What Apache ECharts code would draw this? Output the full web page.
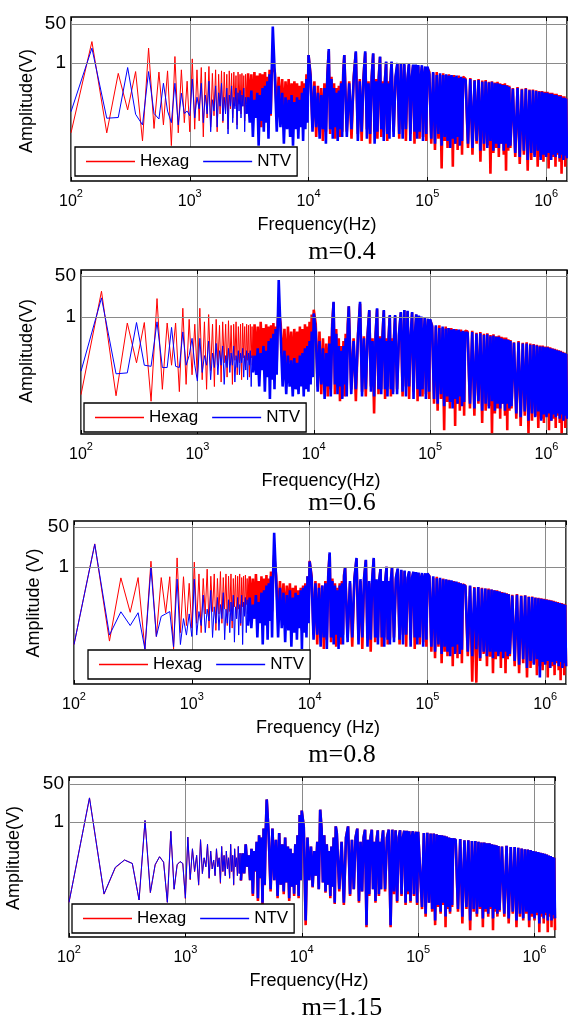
<!DOCTYPE html>
<html><head><meta charset="utf-8">
<script src="https://cdn.jsdelivr.net/npm/echarts@6/dist/echarts.min.js"></script>
<style>html,body{margin:0;padding:0;background:#fff}#c{width:568px;height:1015px}</style>
</head><body><div id="c"></div>
<script>
// ---------- frequency grid (Hz), one list per band ----------
const fA = [100,150,200,250,300,350,400,450,500,550,600,650,700,750,800,850,900,950,1000];
const fB = [1050,1100,1150,1200,1250,1300,1350,1400,1450,1500,1550,1600,1650,1700,1750,1800,1850,1900,1950,2000,2050,2100,2150,2200,2250,2300,2350,2400,2450,2500,2550,2600,2650,2700,2750,2800,2850,2900,2950,3000];
const fC = [3100,3200,3300,3400,3500,3600,3700,3800,3900,4000,4100,4200,4300,4400,4500,4600,4700,4800,4900,5000];
const fD = [5200,5400,5600,5800,6000,6200,6400,6600,6800,7000,7200,7400,7600,7800,8000,8200,8400,8600,8800,9000,9200,9400,9600,9800,10000];
const fE = [10400,10800,11200,11600,12000,12400,12800,13200,13600,14000,14400,14800,15200,15600,16000,16400,16800,17200,17600,18000,18400,18800,19200,19600,20000];
const fF = [21000,22000,23000,24000,25000,26000,27000,28000,29000,30000,31000,32000,33000,34000,35000,36000,37000,38000,39000,40000,41000,42000,43000,44000,45000,46000,47000,48000,49000,50000];
const fG = [52000,54000,56000,58000,60000,62000,64000,66000,68000,70000,72000,74000,76000,78000,80000,82000,84000,86000,88000,90000,92000,94000,96000,98000,100000];
const fH = [104000,108000,112000,116000,120000,124000,128000,132000,136000,140000,144000,148000,152000,156000,160000,164000,168000,172000,176000,180000,184000,188000,192000,196000,200000];
const fI = [210000,220000,230000,240000,250000,260000,270000,280000,290000,300000,310000,320000,330000,340000,350000,360000,370000,380000,390000,400000,410000,420000,430000,440000,450000,460000,470000,480000,490000,500000];
const fJ = [525000,550000,575000,600000,625000,650000,675000,700000,725000,750000,775000,800000,825000,850000,875000,900000,925000,950000,975000,1000000,1025000,1050000,1075000,1100000,1125000,1150000,1175000,1200000,1225000,1250000,1275000,1300000,1325000,1350000,1375000,1400000,1425000,1450000,1475000,1500000];
const freqBands = [fA,fB,fC,fD,fE,fF,fG,fH,fI,fJ];

// ---------- amplitudes (V), one list per band, m = 0.4 ----------
const hexag04 = [
 [9e-4,8.5,9e-4,0.35,9e-3,0.42,4e-4,4.4,1.4e-3,0.4,2e-3,0.45,2.5e-4,1.9,9e-4,0.5,2.5e-3,0.16,1e-3],
 [1.5,1.3e-3,0.5,3e-3,0.63,6e-4,0.4,4e-3,0.7,1.6e-3,0.35,5e-3,0.5,1e-3,0.32,6e-3,0.45,2.5e-3,0.4,8e-3,0.32,1.3e-3,0.45,0.01,0.35,4e-3,0.4,0.013,0.28,2e-3,0.4,0.016,0.32,6e-3,0.35,0.013,0.28,3e-3,0.32,0.016],
 [0.35,0.013,0.32,4e-3,0.4,0.02,0.28,0.01,0.35,1.6e-3,0.32,0.016,0.4,8e-3,0.25,0.02,0.5,5e-3,0.35,0.8],
 [0.4,6e-3,0.25,0.01,0.2,4e-3,0.16,8e-3,0.2,5e-3,0.13,0.01,0.16,3e-3,0.13,8e-3,0.1,5e-3,0.16,6e-3,0.13,2.5e-3,0.32,0.01,2.2],
 [0.32,1.6e-3,0.16,6e-4,0.1,1.3e-3,0.08,4e-4,0.13,1e-3,0.32,3.2,8e-4,0.25,1.6e-3,0.13,5e-4,0.08,1.3e-3,0.1,6e-4,0.16,1e-3,0.4,2.2],
 [1e-3,0.16,5e-4,0.25,2.8,8e-4,0.2,4e-4,0.25,2.8,1.3e-3,0.16,3e-4,0.25,2.5,1e-3,0.2,5e-4,0.25,1.8,6e-4,0.16,1e-3,0.2,1.1,4e-4,0.16,1.3e-3,0.2,1.1],
 [1e-3,0.2,0.9,5e-4,0.9,1.3e-3,0.8,4e-4,0.16,0.8,8e-4,0.2,0.8,3e-4,0.8,1e-3,0.7,5e-4,0.16,0.7,6e-4,0.2,0.63,4e-4,0.63],
 [0.4,3e-4,0.35,1.6e-4,0.4,5e-4,0.3,2.5e-5,0.35,4e-4,0.3,2e-4,0.32,6e-4,0.28,3e-5,0.3,3e-4,0.25,1.6e-4,0.28,5e-4,0.22,1e-4,0.25],
 [0.2,2e-4,0.22,1e-4,0.18,3e-4,0.2,5e-5,0.17,1.5e-4,0.18,2.5e-4,0.15,1.5e-5,0.16,1.2e-4,0.14,2e-4,0.15,8e-5,0.13,3e-4,0.12,1e-4,0.13,2e-5,0.11,1.5e-4,0.1,2e-4],
 [0.08,8e-5,0.09,4e-5,0.075,1e-4,0.08,2e-5,0.07,6e-5,0.07,1e-4,0.065,3e-5,0.06,8e-5,0.06,5e-5,0.055,1e-4,0.055,2.5e-5,0.05,6e-5,0.05,8e-5,0.045,3e-5,0.045,1e-4,0.04,5e-5,0.04,1.5e-5,0.035,6e-5,0.035,3e-5,0.03,7e-5]
];
const ntv04 = [
 [7.5e-3,4.4,3.9e-3,4.2e-3,0.63,5.8e-3,2e-3,0.42,6.3e-3,3.6e-3,0.13,8e-3,2.5e-3,0.13,2e-3,0.048,6.3e-3,8e-3,5e-3],
 [0.2,4e-3,0.032,0.01,0.13,2.5e-3,0.04,6e-3,0.16,1e-3,0.025,8e-3,0.1,1.6e-3,0.05,0.013,0.13,3e-3,0.032,6e-3,0.08,8e-4,0.04,0.013,0.1,2.5e-3,0.032,0.01,0.08,1.3e-3,0.05,8e-3,0.063,4e-3,0.04,0.013,0.08,1e-3,0.032,6e-3],
 [0.032,2.5e-3,0.063,6e-4,0.025,4e-3,0.05,2.5e-4,0.04,3e-3,0.08,1e-3,0.1,2.5e-3,0.16,5e-4,0.32,6e-3,0.5,38],
 [0.32,1e-3,0.1,1.6e-3,0.05,3e-4,0.032,1.3e-3,0.025,6e-4,0.04,2.5e-4,0.02,1.3e-3,0.032,5e-4,0.025,1.6e-3,0.05,4e-4,0.08,1.3e-3,0.2,2.5e-3,2.2],
 [0.25,1e-3,0.1,1.6e-3,0.05,5e-4,0.04,1.3e-3,0.08,3e-4,0.25,4,1.3e-3,0.2,5e-4,0.08,1.6e-3,0.05,4e-4,0.063,1.3e-3,0.13,6e-4,0.32,2.2],
 [6e-4,0.13,1.3e-3,0.2,3.2,4e-4,0.16,1e-3,0.2,3.2,5e-4,0.13,8e-4,0.2,2.6,3e-4,0.16,1e-3,0.2,1.9,1.3e-3,0.13,4e-4,0.16,1.15,8e-4,0.13,5e-4,0.16,1.15],
 [6e-4,0.25,1.0,8e-4,1.0,5e-4,0.9,1.3e-3,0.2,0.9,4e-4,0.25,0.85,1e-3,0.85,5e-4,0.8,1e-3,0.2,0.8,4e-4,0.25,0.7,8e-4,0.7],
 [0.32,5e-4,0.4,3e-4,0.3,8e-4,0.35,2.5e-4,0.3,6e-4,0.32,4e-4,0.28,2e-4,0.3,5e-4,0.25,3e-4,0.28,6e-4,0.22,2.5e-4,0.25,4e-4,0.2],
 [0.18,3e-4,0.2,2e-4,0.17,4e-4,0.18,1.5e-4,0.15,3e-4,0.16,2e-4,0.14,4e-4,0.15,1.5e-4,0.13,3e-4,0.13,2e-4,0.12,3e-4,0.11,1.5e-4,0.11,3e-4,0.1,2e-4,0.09,2.5e-4],
 [0.075,1.2e-4,0.08,8e-5,0.07,1.5e-4,0.075,6e-5,0.065,1.2e-4,0.065,8e-5,0.06,1.5e-4,0.055,6e-5,0.055,1e-4,0.05,8e-5,0.05,1.2e-4,0.045,6e-5,0.045,1e-4,0.04,8e-5,0.04,1.2e-4,0.035,7e-5,0.035,1e-4,0.03,6e-5,0.03,9e-5,0.028,7e-5]
];

// ---------- m = 0.6 ----------
const hexag06 = [
 [6e-4,11.7,5.4e-4,0.56,0.0126,0.59,3.2e-4,5.8,1e-3,0.56,0.01,0.56,8e-4,2.3,1.6e-3,0.8,4e-3,0.5,3.2e-3],
 [2.3,2.5e-3,0.63,1e-3,1.26,6e-3,0.5,1.3e-3,0.8,0.01,0.45,2e-3,0.63,0.0126,0.5,3.2e-3,0.7,0.01,0.45,1.6e-3,0.5,0.016,0.63,4e-3,0.4,0.0126,0.5,2.5e-3,0.56,0.02,0.4,6.3e-3,0.5,0.016,0.45,3.2e-3,0.5,0.02,0.4,0.01],
 [0.5,0.0126,0.4,6.3e-3,0.63,0.02,0.35,0.01,0.5,4e-3,0.4,0.016,0.45,8e-3,0.56,0.02,0.4,0.01,0.63,2],
 [0.5,0.01,0.32,5e-3,0.4,0.0126,0.25,4e-3,0.32,0.01,0.25,3.2e-3,0.4,8e-3,0.32,2.5e-3,0.5,0.01,0.4,5e-3,0.63,0.0126,1.26,0.016,2],
 [0.5,1.3e-3,0.25,6.3e-4,0.13,1.6e-3,0.08,5e-4,0.16,1e-3,0.5,4,6.3e-4,0.32,1.3e-3,0.13,3.2e-4,0.063,1e-3,0.1,5e-4,0.2,1.3e-3,0.5,2.75],
 [1e-3,0.13,3.2e-4,0.2,3.5,8e-4,0.16,5e-4,0.2,1.8,1.3e-3,0.13,1e-4,0.2,2.1,6.3e-4,0.16,1e-3,0.2,1.8,4e-4,0.13,1.3e-3,0.16,1.1,5e-4,0.13,8e-4,0.16,1.1],
 [1e-3,0.16,1.5,5e-4,1.9,1.3e-3,1.7,4e-4,0.13,1.5,8e-4,0.16,1.25,3.2e-4,1.1,1e-3,1.0,5e-4,0.13,0.9,6.3e-4,0.16,0.8,4e-4,0.75],
 [0.45,2.5e-4,0.4,1.3e-4,0.45,4e-4,0.35,2e-5,0.4,3e-4,0.35,1.6e-4,0.35,5e-4,0.3,3e-5,0.32,2.5e-4,0.28,1.3e-4,0.3,4e-4,0.25,8e-5,0.27],
 [0.25,1.6e-4,0.27,8e-5,0.22,2.5e-4,0.24,4e-5,0.2,1.3e-4,0.21,2e-4,0.18,1.5e-5,0.19,1e-4,0.16,1.6e-4,0.17,6e-5,0.15,2.5e-4,0.14,8e-5,0.14,2e-5,0.12,1.3e-4,0.11,1.6e-4],
 [0.09,6e-5,0.1,3e-5,0.085,8e-5,0.09,1.5e-5,0.08,5e-5,0.075,8e-5,0.07,2.5e-5,0.065,6e-5,0.065,4e-5,0.06,8e-5,0.06,2e-5,0.055,5e-5,0.05,6e-5,0.048,2.5e-5,0.045,8e-5,0.042,4e-5,0.04,1.5e-5,0.036,5e-5,0.034,2.5e-5,0.03,6e-5]
];
const ntv06 = [
 [5.6e-3,6.2,4.4e-3,4.8e-3,0.59,0.01,9e-3,0.63,8e-3,8e-3,0.37,9e-3,8e-3,0.24,0.01,0.025,0.13,0.01,2.2e-3],
 [0.13,5e-3,0.025,0.01,0.1,2.5e-3,0.032,8e-3,0.08,4e-3,0.04,0.01,0.063,1.6e-3,0.025,8e-3,0.05,5e-3,0.032,0.01,0.063,2e-3,0.025,8e-3,0.04,4e-3,0.032,0.0126,0.05,3.2e-3,0.025,6.3e-3,0.04,2.5e-3,0.032,0.01,0.04,1.3e-3,0.025,5e-3],
 [0.025,4e-3,0.05,1.3e-3,0.032,6.3e-3,0.063,8e-4,0.04,3.2e-3,0.1,4e-4,0.13,2.5e-3,0.2,1e-3,0.32,4e-3,0.4,34],
 [0.16,1.3e-3,0.04,6.3e-4,0.025,1.3e-3,0.016,5e-4,0.02,1e-3,0.0126,6.3e-4,0.025,1.3e-3,0.032,5e-4,0.05,1e-3,0.063,8e-4,0.1,1.6e-3,0.25,3.2e-3,1.4],
 [0.25,8e-4,0.1,1.6e-3,0.05,4e-4,0.032,1.3e-3,0.08,5e-4,0.32,4.3,1.6e-3,0.2,6.3e-4,0.063,1.3e-3,0.04,4e-4,0.063,1.6e-3,0.13,5e-4,0.32,2.75],
 [6.3e-4,0.1,1e-3,0.16,4.3,5e-4,0.13,1e-3,0.16,1.95,8e-4,0.1,5e-4,0.16,2.3,1e-3,0.13,6.3e-4,0.16,1.95,1e-3,0.1,5e-4,0.13,1.2,1e-3,0.1,6.3e-4,0.13,1.2],
 [6.3e-4,0.2,1.6,8e-4,1.95,5e-4,1.8,1.3e-3,0.16,1.6,4e-4,0.2,1.3,1e-3,1.15,5e-4,1.05,1e-3,0.16,0.95,4e-4,0.2,0.85,8e-4,0.8],
 [0.4,4e-4,0.45,2.5e-4,0.35,6.3e-4,0.4,2e-4,0.33,5e-4,0.35,3e-4,0.3,1.6e-4,0.32,4e-4,0.28,2.5e-4,0.3,5e-4,0.25,2e-4,0.27,3e-4,0.22],
 [0.22,2.5e-4,0.24,1.6e-4,0.2,3.2e-4,0.21,1.3e-4,0.18,2.5e-4,0.19,1.6e-4,0.16,3.2e-4,0.17,1.3e-4,0.15,2.5e-4,0.15,1.6e-4,0.13,2.5e-4,0.12,1.3e-4,0.12,2.5e-4,0.11,1.6e-4,0.1,2e-4],
 [0.085,1e-4,0.09,7e-5,0.08,1.2e-4,0.08,5e-5,0.07,1e-4,0.07,7e-5,0.065,1.2e-4,0.06,5e-5,0.06,9e-5,0.055,7e-5,0.055,1e-4,0.05,5e-5,0.048,9e-5,0.045,7e-5,0.042,1e-4,0.04,6e-5,0.037,9e-5,0.034,5e-5,0.032,8e-5,0.03,6e-5]
];

// ---------- m = 0.8 ----------
const hexag08 = [
 [5e-4,9.5,7e-4,0.34,0.0117,0.35,3.2e-4,1.74,1.1e-3,0.35,0.0112,0.38,3.2e-4,2.4,1.6e-3,0.38,3.2e-3,0.2,2.5e-3],
 [1.6,4e-3,0.5,1.6e-3,0.32,0.01,0.8,2.5e-3,0.4,0.0126,0.5,2e-3,0.32,0.01,0.63,4e-3,0.35,0.016,0.5,3.2e-3,0.4,0.0126,0.5,2.5e-3,0.32,0.02,0.45,6.3e-3,0.4,0.016,0.5,3.2e-3,0.35,0.02,0.4,8e-3,0.45,0.025,0.32,0.01],
 [0.4,0.016,0.32,6.3e-3,0.5,0.025,0.25,0.01,0.4,4e-3,0.32,0.02,0.45,8e-3,0.32,0.025,0.63,0.0126,0.5,3.2],
 [0.4,6.3e-3,0.25,0.0126,0.2,4e-3,0.16,0.01,0.2,3.2e-3,0.13,8e-3,0.16,2.5e-3,0.1,6.3e-3,0.13,2e-3,0.16,5e-3,0.2,3.2e-3,0.4,0.01,1.8],
 [0.4,1.3e-3,0.25,5e-4,0.2,1e-3,0.16,3.2e-4,0.25,8e-4,0.5,3.5,6.3e-4,0.32,1e-3,0.2,4e-4,0.13,1e-3,0.2,5e-4,0.25,1.3e-3,0.45,0.9],
 [1e-3,0.2,4e-4,0.3,2.2,8e-4,0.25,3.2e-4,0.3,1.9,1e-3,0.2,2.5e-4,0.3,2.2,6.3e-4,0.25,1e-3,0.25,0.8,4e-4,0.2,1e-3,0.25,1.0,5e-4,0.2,8e-4,0.25,0.9],
 [1e-3,0.3,0.8,5e-4,0.7,1.3e-3,0.65,4e-4,0.3,0.6,8e-4,0.3,0.6,3.2e-4,0.55,1e-3,0.55,5e-4,0.3,0.5,6.3e-4,0.3,0.5,4e-4,0.5],
 [0.4,2.5e-4,0.35,1.3e-4,0.38,4e-4,0.3,8e-5,0.32,2.5e-4,0.28,1.6e-4,0.28,4e-4,0.25,6e-5,0.25,2.5e-4,0.22,1.3e-4,0.22,3.2e-4,0.2,8e-5,0.18],
 [0.16,1.6e-4,0.15,1.3e-5,0.14,1.2e-5,0.14,1e-4,0.13,2e-4,0.12,6e-5,0.12,1.5e-4,0.11,3e-5,0.1,1.2e-4,0.1,2e-4,0.09,5e-5,0.085,1.5e-4,0.08,3e-5,0.075,1.2e-4,0.07,1.6e-4],
 [0.065,6e-5,0.07,3e-5,0.06,8e-5,0.062,2e-5,0.055,5e-5,0.055,8e-5,0.05,2.5e-5,0.048,6e-5,0.046,4e-5,0.044,8e-5,0.042,2e-5,0.04,5e-5,0.038,6e-5,0.036,2.5e-5,0.034,8e-5,0.032,4e-5,0.03,1.5e-5,0.029,5e-5,0.027,2.5e-5,0.025,6e-5]
];
const ntv08 = [
 [5e-4,9.1,1.26e-3,0.0123,3.2e-3,0.0112,3.2e-4,0.91,1.1e-3,7.9e-3,0.01,0.0126,4e-4,0.3,5e-4,6.3e-3,1.26e-3,0.01,1.1e-3],
 [0.3,1.26e-3,0.0126,3.2e-3,0.063,1.6e-3,0.016,5e-3,0.1,1e-3,0.02,4e-3,0.05,2e-3,0.025,6.3e-3,0.08,8e-4,0.016,4e-3,0.04,1.6e-3,0.032,5e-3,0.063,6.3e-4,0.02,6.3e-3,0.05,1.26e-3,0.025,4e-3,0.063,5e-4,0.032,8e-3,0.05,1.6e-3,0.04,3.2e-3],
 [0.05,2.5e-3,0.025,6.3e-3,0.063,1e-3,0.032,4e-3,0.08,5e-4,0.1,3.2e-3,0.16,8e-4,0.2,5e-3,0.4,1e-3,0.5,28],
 [0.25,1e-3,0.13,2.5e-3,0.08,6.3e-4,0.063,2e-3,0.1,4e-4,0.05,1.6e-3,0.08,8e-4,0.063,2.5e-3,0.1,3.2e-4,0.13,1.6e-3,0.16,1e-3,0.4,4e-3,1.7],
 [0.32,8e-4,0.2,1.3e-3,0.13,4e-4,0.16,1e-3,0.2,3.2e-4,0.45,4.1,1e-3,0.25,5e-4,0.16,1.3e-3,0.1,3.2e-4,0.16,1e-3,0.2,5e-4,0.4,0.91],
 [6.3e-4,0.25,1e-3,0.32,2.4,5e-4,0.3,1e-3,0.35,2.0,4e-4,0.25,8e-4,0.32,2.4,1e-3,0.3,5e-4,0.3,0.8,1e-3,0.25,4e-4,0.3,1.02,8e-4,0.25,5e-4,0.3,0.91],
 [6.3e-4,0.35,0.85,8e-4,0.75,5e-4,0.7,1.3e-3,0.35,0.65,4e-4,0.35,0.62,1e-3,0.6,5e-4,0.58,1e-3,0.32,0.55,4e-4,0.32,0.53,8e-4,0.53],
 [0.38,4e-4,0.4,2.5e-4,0.33,5e-4,0.34,2e-4,0.3,4e-4,0.3,2.5e-4,0.27,1.6e-4,0.27,4e-4,0.24,2e-4,0.24,5e-4,0.21,2e-4,0.2,3e-4,0.17],
 [0.15,2.5e-4,0.16,1.6e-4,0.13,3.2e-4,0.14,1.3e-4,0.12,2.5e-4,0.12,1.6e-4,0.11,2.5e-4,0.11,1.3e-4,0.1,2.5e-4,0.095,1.6e-4,0.09,2.5e-4,0.08,1.3e-4,0.08,2.5e-4,0.072,1.6e-4,0.068,2e-4],
 [0.06,1e-4,0.065,7e-5,0.058,1.2e-4,0.06,5e-5,0.052,1e-4,0.052,7e-5,0.048,1.2e-4,0.046,2e-5,0.044,9e-5,0.042,7e-5,0.04,1e-4,0.038,5e-5,0.036,9e-5,0.034,7e-5,0.032,1e-4,0.03,6e-5,0.029,9e-5,0.027,5e-5,0.026,8e-5,0.024,6e-5]
];

// ---------- m = 1.15 ----------
const hexag115 = [
 [2.6e-4,11.7,6e-4,9e-3,0.02,0.014,3.3e-4,1.15,7e-4,0.012,0.028,0.016,2.6e-4,0.38,1e-3,0.012,0.017,0.014,3.8e-4],
 [0.21,2.6e-3,0.063,6e-3,0.032,1.5e-3,0.16,5e-3,0.025,0.01,0.1,3e-3,0.05,8e-3,0.02,4e-3,0.063,0.01,0.025,1.8e-3,0.08,6e-3,0.032,4e-3,0.05,8e-3,0.025,3e-3,0.1,6e-3,0.032,1.5e-3,0.063,0.01,0.025,4e-3,0.08,5e-3,0.04,2.4e-3],
 [0.04,5e-3,0.1,0.01,0.032,2.5e-3,0.063,5e-4,0.05,6e-3,0.13,3e-4,0.25,3e-3,0.2,1.8e-4,0.5,1.5e-3,0.32,10],
 [0.25,8e-4,0.5,2.5e-3,0.16,4e-4,0.32,1.6e-3,0.1,6e-4,0.2,2e-3,0.08,3e-4,0.063,1.3e-3,0.04,5e-4,0.1,1.6e-3,0.25,4e-4,2,2.5e-3,3.2],
 [0.63,2.5e-5,0.2,2.5e-3,0.08,1.2e-3,0.05,4e-3,0.13,1e-3,3.5,0.5,2e-3,0.25,7e-4,0.1,1.6e-3,0.05,4e-4,0.08,1.3e-3,0.2,2.2e-4,0.63,0.32],
 [8e-4,0.13,2e-4,0.2,0.63,5e-4,0.16,1e-3,0.2,0.5,2.5e-4,0.13,8e-4,0.2,0.45,2e-5,0.16,5e-4,0.2,0.45,1e-3,0.13,2.5e-4,0.16,0.42,5e-4,0.13,1e-3,0.16,0.42],
 [8e-4,0.2,0.45,2e-5,0.45,6e-4,0.42,2.5e-4,0.2,0.42,5e-4,0.2,0.4,2e-4,0.4,6e-4,0.38,2.5e-4,0.2,0.38,5e-4,0.2,0.36,2e-4,0.36],
 [0.35,1.3e-4,0.32,6e-5,0.33,2.5e-4,0.3,1e-4,0.3,2.5e-5,0.28,1.6e-4,0.26,8e-5,0.25,2e-4,0.24,2e-5,0.22,1.3e-4,0.2,8e-5,0.19,1.6e-4,0.17],
 [0.16,1e-4,0.17,3e-5,0.15,1.3e-4,0.15,1.5e-5,0.14,1e-4,0.14,6e-5,0.13,1.3e-4,0.12,2e-5,0.12,1e-4,0.11,6e-5,0.11,1.3e-4,0.1,1.5e-5,0.095,1e-4,0.09,6e-5,0.085,1e-4],
 [0.08,6e-5,0.085,3e-5,0.075,8e-5,0.075,2e-5,0.07,6e-5,0.065,4e-5,0.06,8e-5,0.058,2e-5,0.055,6e-5,0.05,4e-5,0.048,7e-5,0.045,1.2e-5,0.042,6e-5,0.04,3e-5,0.038,7e-5,0.035,1.2e-5,0.032,6e-5,0.03,2e-5,0.027,5e-5,0.025,1.5e-5]
];
const ntv115 = [
 [2.6e-4,11.7,6.2e-4,9.5e-3,0.02,0.014,3.3e-4,1.15,7.2e-4,0.0126,0.028,0.016,2.6e-4,0.38,1e-3,0.0126,0.017,0.014,4e-4],
 [0.21,2.8e-3,0.063,6.3e-3,0.032,1.6e-3,0.16,5e-3,0.025,0.01,0.1,3.2e-3,0.05,8e-3,0.02,4e-3,0.063,0.01,0.025,2e-3,0.08,6.3e-3,0.032,4e-3,0.05,8e-3,0.025,3.2e-3,0.1,6.3e-3,0.032,1.6e-3,0.063,0.01,0.025,4e-3,0.08,5e-3,0.04,2.5e-3],
 [0.04,5e-3,0.1,0.01,0.032,2.5e-3,0.063,6.3e-4,0.05,6.3e-3,0.13,4e-4,0.25,3.2e-3,0.2,2.5e-4,0.5,1.6e-3,0.32,10],
 [0.25,1e-3,0.5,2.5e-3,0.16,5e-4,0.32,1.6e-3,0.1,8e-4,0.2,2e-3,0.08,4e-4,0.063,1.3e-3,0.04,6.3e-4,0.1,1.6e-3,0.25,5e-4,2,2.5e-3,3.2],
 [0.63,4e-5,0.2,2.5e-3,0.08,1.3e-3,0.05,4e-3,0.13,1e-3,3.5,0.5,2e-3,0.25,8e-4,0.1,1.6e-3,0.05,5e-4,0.08,1.3e-3,0.2,2.5e-4,0.63,0.32],
 [1e-3,0.13,2.5e-4,0.2,0.63,6e-4,0.16,1e-3,0.2,0.5,3e-4,0.13,8e-4,0.2,0.45,2.5e-5,0.16,6e-4,0.2,0.45,1e-3,0.13,3e-4,0.16,0.42,6e-4,0.13,1e-3,0.16,0.42],
 [1e-3,0.2,0.45,2.5e-5,0.45,8e-4,0.42,3e-4,0.2,0.42,6e-4,0.2,0.4,2.5e-4,0.4,8e-4,0.38,3e-4,0.2,0.38,6e-4,0.2,0.36,2.5e-4,0.36],
 [0.35,1.6e-4,0.32,8e-5,0.33,2.5e-4,0.3,1.3e-4,0.3,4e-5,0.28,2e-4,0.26,1e-4,0.25,2.5e-4,0.24,6e-5,0.22,1.6e-4,0.2,1e-4,0.19,2e-4,0.17],
 [0.16,1.3e-4,0.17,6e-5,0.15,1.6e-4,0.15,4e-5,0.14,1.3e-4,0.14,8e-5,0.13,1.6e-4,0.12,5e-5,0.12,1.3e-4,0.11,8e-5,0.11,1.6e-4,0.1,5e-5,0.095,1.3e-4,0.09,8e-5,0.085,1.2e-4],
 [0.08,8e-5,0.085,5e-5,0.075,1e-4,0.075,4e-5,0.07,8e-5,0.065,5e-5,0.06,1e-4,0.058,4e-5,0.055,8e-5,0.05,5e-5,0.048,9e-5,0.045,3e-5,0.042,8e-5,0.04,5e-5,0.038,9e-5,0.035,4e-5,0.032,8e-5,0.03,4e-5,0.027,7e-5,0.025,5e-5]
];

// ---------- labels ----------
const seriesNames = ['Hexag', 'NTV'];
const yTickValues = [1, 50];
const yTickLabels = ['1', '50'];
const panelTitles = ['m=0.4', 'm=0.6', 'm=0.8', 'm=1.15'];
const yAxisTitles = ['Amplitude(V)', 'Amplitude(V)', 'Amplitude (V)', 'Amplitude(V)'];
const xAxisTitles = ['Frequency(Hz)', 'Frequency(Hz)', 'Frequency (Hz)', 'Frequency(Hz)'];

// ---------- layout (pixels) ----------
const SANS = 'Arial, "Liberation Sans", Helvetica, sans-serif';
const SERIF = '"Times New Roman", "Liberation Serif", serif';
const layout = [
  {left:71, top:17,  width:496, height:164, yMin:7.2e-6, yMax:100, legL:75, legT:147, ampX:27, ampY:101, frX:317, frY:225, mX:342, mY:252},
  {left:81, top:270, width:486, height:164, yMin:1.4e-5, yMax:89,  legL:84, legT:403, ampX:27, ampY:351, frX:321, frY:481, mX:342, mY:503},
  {left:74, top:521, width:492, height:163, yMin:1.05e-5, yMax:89, legL:88, legT:650, ampX:34, ampY:603, frX:318, frY:728, mX:342, mY:755},
  {left:69, top:777, width:486, height:160, yMin:7.4e-6, yMax:100, legL:72, legT:904, ampX:14, ampY:858, frX:309, frY:981, mX:342, mY:1008}
];
const dataSets = [[hexag04, ntv04], [hexag06, ntv06], [hexag08, ntv08], [hexag115, ntv115]];
const colors = ['#ff0000', '#0000ff'];
const SPLIT_BAND = 2; // bands from here on are the dense high-frequency part

const problems = [];
function toPairs(bands, tag, from, to) {
  const out = [];
  for (let i = from; i < to; i++) {
    const vals = bands[i], f = freqBands[i];
    if (vals.length !== f.length) problems.push(tag + ' band' + i + ' ' + vals.length + '/' + f.length);
    const n = Math.min(vals.length, f.length);
    for (let k = 0; k < n; k++) out.push([f[k], vals[k]]);
  }
  return out;
}

const grids = [], xAxes = [], yAxes = [], series = [], legends = [], graphics = [];
layout.forEach((L, i) => {
  grids.push({left:L.left, top:L.top, width:L.width, height:L.height, show:true, borderColor:'#000', borderWidth:1.5, backgroundColor:'rgba(0,0,0,0)'});
  xAxes.push({
    type:'log', logBase:10, gridIndex:i, min:100, max:1.5e6, position:'bottom',
    axisLine:{show:false},
    axisTick:{show:true, inside:true, length:4, lineStyle:{color:'#000', width:1}},
    splitLine:{show:true, lineStyle:{color:'#8a8a8a', width:1}},
    axisLabel:{
      margin:7, showMaxLabel:false,
      formatter: v => { const e = Math.log10(v); const r = Math.round(e); return Math.abs(e - r) < 1e-3 ? '{b|10}{s|' + r + '}' : ''; },
      rich:{
        b:{fontSize:16, fontFamily:SANS, color:'#000', lineHeight:22, verticalAlign:'bottom'},
        s:{fontSize:11, fontFamily:SANS, color:'#000', lineHeight:9, verticalAlign:'top'}
      }
    }
  });
  yAxes.push({type:'log', logBase:10, gridIndex:i, min:L.yMin, max:L.yMax,
    axisLine:{show:false}, axisTick:{show:false}, axisLabel:{show:false}, splitLine:{show:false}});
  seriesNames.forEach((nm, s) => {
    const bands = dataSets[i][s];
    const low = toPairs(bands, nm + i, 0, SPLIT_BAND);
    const high = toPairs(bands, nm + i, SPLIT_BAND, bands.length);
    high.unshift(low[low.length - 1]); // join the two parts at the shared sample
    const base = {type:'line', name:nm, xAxisIndex:i, yAxisIndex:i, symbol:'none', showSymbol:false,
      itemStyle:{color:colors[s]}, emphasis:{disabled:true}, z:2 + s};
    const lowSer = Object.assign({}, base, {data:low, lineStyle:{color:colors[s], width:1}});
    const highSer = Object.assign({}, base, {data:high, lineStyle:{color:colors[s], width:2.6, join:'bevel'}});
    if (s === 0) {
      lowSer.markLine = {
        silent:true, symbol:['none','none'], animation:false,
        lineStyle:{color:'#8a8a8a', type:'solid', width:1},
        label:{show:true, position:'start', distance:5, color:'#000', fontSize:19, fontFamily:SANS},
        data: yTickValues.map((v, k) => ({yAxis:v, label:{formatter:yTickLabels[k]}}))
      };
    }
    series.push(lowSer, highSer);
  });
  legends.push({
    left:L.legL, top:L.legT, orient:'horizontal', data:seriesNames.slice(), selectedMode:false,
    icon:'rect', itemWidth:49, itemHeight:1.3, itemGap:14, padding:[6,6,6,11],
    borderColor:'#000', borderWidth:1.3, borderRadius:0, backgroundColor:'#fff',
    textStyle:{fontSize:17, color:'#000', fontFamily:SANS}
  });
  graphics.push({type:'text', x:L.ampX, y:L.ampY, rotation:Math.PI/2,
    style:{text:yAxisTitles[i], fontSize:18, fontFamily:SANS, fill:'#000', align:'center', verticalAlign:'middle', textAlign:'center', textVerticalAlign:'middle'}});
  graphics.push({type:'text', x:L.frX, y:L.frY,
    style:{text:xAxisTitles[i], fontSize:18, fontFamily:SANS, fill:'#000', align:'center', verticalAlign:'middle', textAlign:'center', textVerticalAlign:'middle'}});
  graphics.push({type:'text', x:L.mX, y:L.mY,
    style:{text:panelTitles[i], fontSize:26, fontFamily:SERIF, fill:'#000', align:'center', verticalAlign:'middle', textAlign:'center', textVerticalAlign:'middle'}});
});
// top x axes (ticks only, for the closed frame)
layout.forEach((L, i) => {
  xAxes.push({type:'log', logBase:10, gridIndex:i, min:100, max:1.5e6, position:'top',
    axisLine:{show:false}, axisTick:{show:true, inside:true, length:4, lineStyle:{color:'#000', width:1}},
    axisLabel:{show:false}, splitLine:{show:false}});
});
if (problems.length) graphics.push({type:'text', x:300, y:5, style:{text:problems.join('; '), fontSize:10, fill:'#f0f'}});

const chart = echarts.init(document.getElementById('c'), null, {renderer:'canvas'});
chart.setOption({animation:false, backgroundColor:'#fff', grid:grids, xAxis:xAxes, yAxis:yAxes, legend:legends, series:series, graphic:graphics});
</script>
</body></html>
